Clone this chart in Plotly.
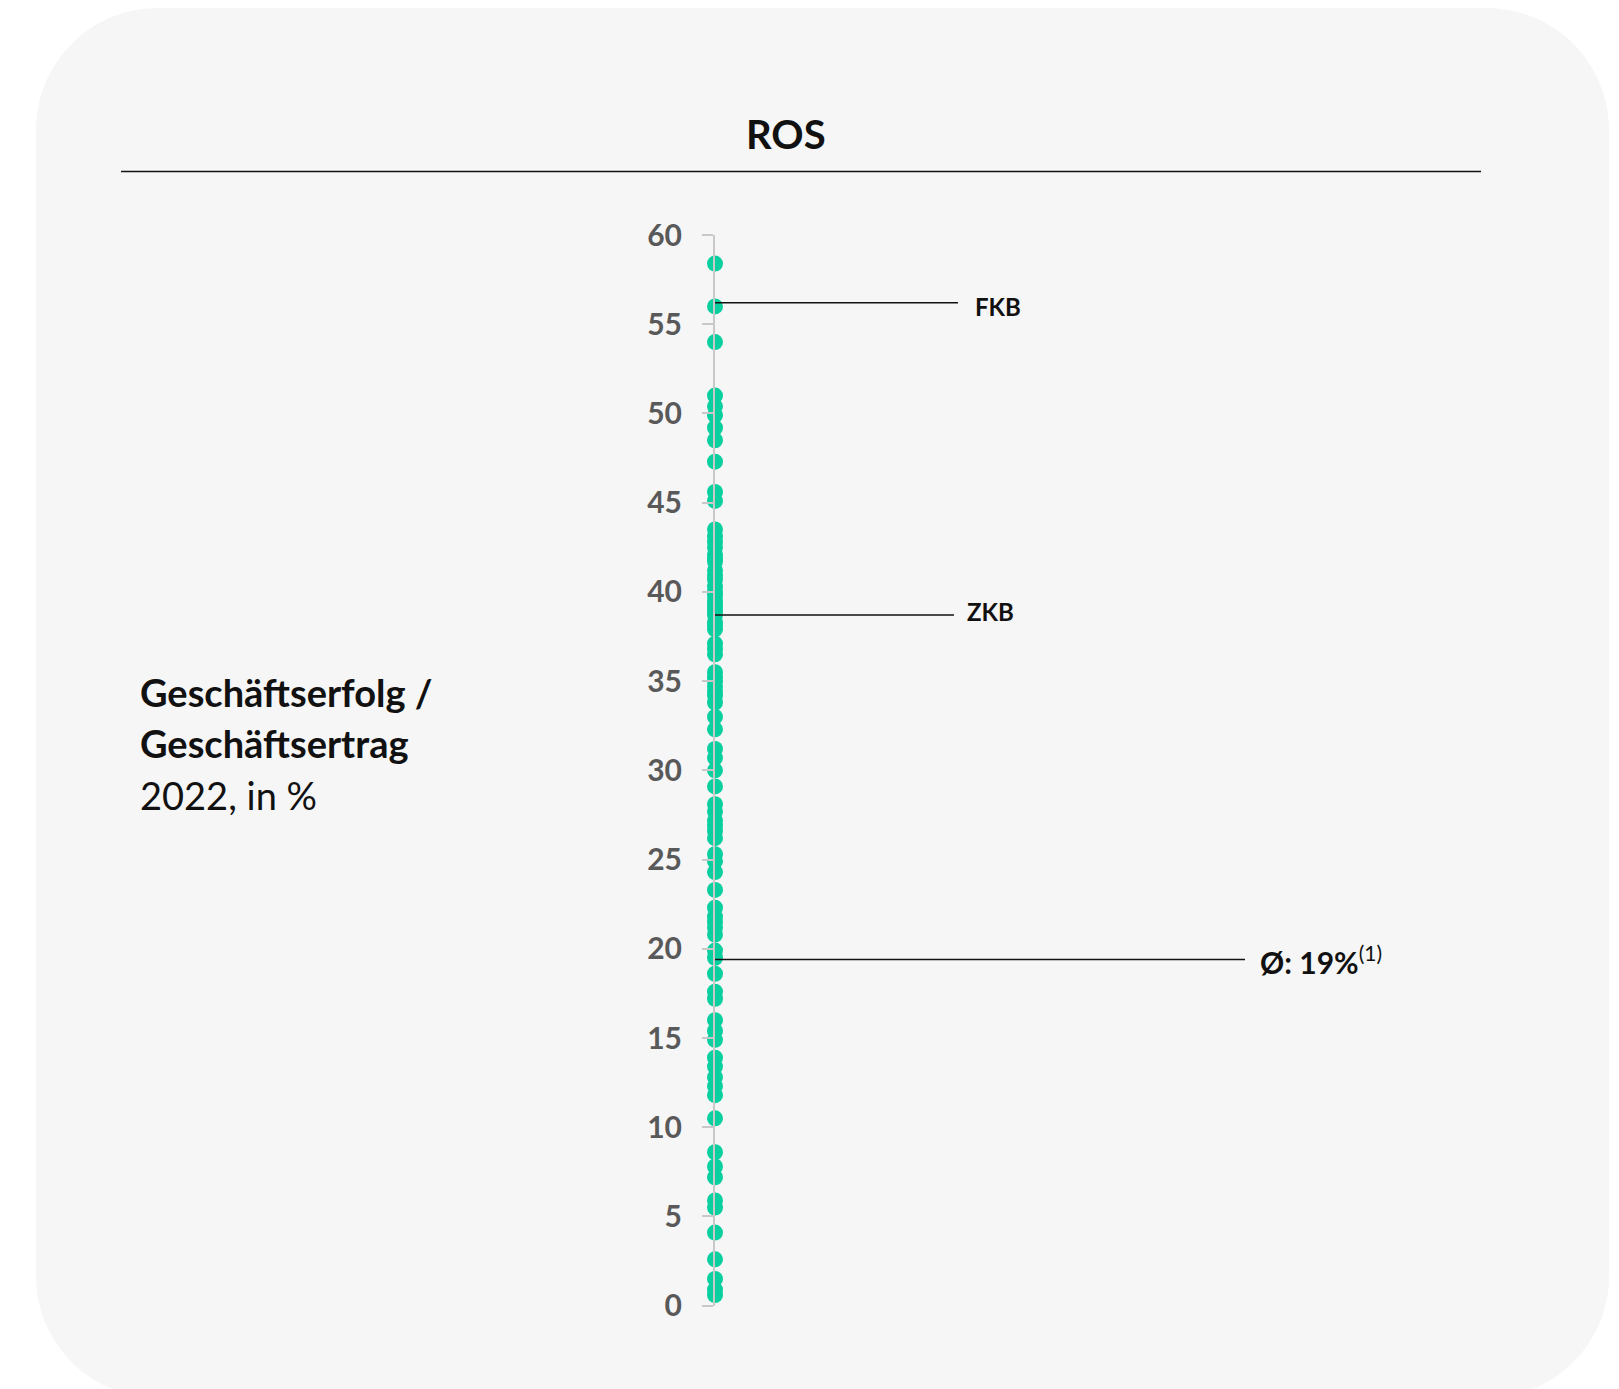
import plotly.graph_objects as go

W, H = 1619, 1389

# ---- data (ROS 2022, in %) ----
ros_values = [
    58.4, 56.0, 54.0,
    51.0, 50.4, 49.9, 49.2, 48.5, 47.3, 45.6, 45.1,
    43.5, 43.1, 42.8, 42.5, 42.1, 41.9, 41.7, 41.2, 40.9, 40.7, 40.3, 40.0,
    39.8, 39.5, 39.3, 39.1, 38.9, 38.7, 38.3, 38.1, 37.9,
    37.1, 36.8, 36.5, 35.5, 35.2, 35.0, 34.7, 34.4, 34.2, 33.8,
    33.0, 32.3, 31.2, 30.7, 30.0, 29.1,
    28.1, 27.7, 27.2, 26.9, 26.6, 26.2, 25.3, 24.9, 24.3, 23.3,
    22.3, 21.8, 21.5, 21.2, 20.8, 19.9, 19.5, 18.6, 17.6, 17.2,
    16.0, 15.4, 14.9, 13.9, 13.4, 12.8, 12.3, 11.8, 10.5,
    8.6, 7.8, 7.2, 5.9, 5.5, 4.1, 2.6, 1.5, 0.9, 0.6,
]
y_ticks = [0, 5, 10, 15, 20, 25, 30, 35, 40, 45, 50, 55, 60]
callouts = ["FKB", "ZKB"]
callout_values = [56.2, 38.7]
avg_value = 19.4
avg_label = "Ø: 19%"

title_text = "ROS"
side_lines = ["Geschäftserfolg /", "Geschäftsertrag"]
side_sub = "2022, in %"

GREEN = "#0ACF9F"
AXIS_GREY = "#c8c8c8"

# page offset compensation (browser body margin)
OFFX, OFFY = -8, -8


def px(x):
    return (x + OFFX) / W


def py(y):
    return 1 - (y + OFFY) / H


def rounded_rect(x0, y0, x1, y1, r):
    k = 0.5523 * r

    def P(x, y):
        return f"{px(x):.5f},{py(y):.5f}"
    path = f"M {P(x0 + r, y0)} L {P(x1 - r, y0)} "
    path += f"C {P(x1 - r + k, y0)} {P(x1, y0 + r - k)} {P(x1, y0 + r)} "
    path += f"L {P(x1, y1 - r)} "
    path += f"C {P(x1, y1 - r + k)} {P(x1 - r + k, y1)} {P(x1 - r, y1)} "
    path += f"L {P(x0 + r, y1)} "
    path += f"C {P(x0 + r - k, y1)} {P(x0, y1 - r + k)} {P(x0, y1 - r)} "
    path += f"L {P(x0, y0 + r)} "
    path += f"C {P(x0, y0 + r - k)} {P(x0 + r - k, y0)} {P(x0 + r, y0)} Z"
    return path


fig = go.Figure()
fig.add_trace(go.Scatter(
    x=[0] * len(ros_values), y=ros_values, mode="markers",
    marker=dict(size=16, color=GREEN, line=dict(width=0)),
    cliponaxis=False, hoverinfo="y", showlegend=False,
))

axis_x_px = 715
y0_px, y60_px = 1305.7, 235.0

shapes = [
    dict(type="path", xref="paper", yref="paper", layer="below",
         path=rounded_rect(36, 8, 1609, 1398, 122),
         fillcolor="#f6f6f6", line=dict(width=0)),
    dict(type="line", xref="paper", yref="paper",
         x0=px(121), x1=px(1481), y0=py(171.5), y1=py(171.5),
         line=dict(color="#111111", width=1.5)),
]
line_ends = [958, 954]
for v, xe in zip(callout_values, line_ends):
    shapes.append(dict(type="line", xref="paper", yref="y",
                       x0=px(axis_x_px), x1=px(xe), y0=v, y1=v,
                       line=dict(color="#111111", width=1.5)))
shapes.append(dict(type="line", xref="paper", yref="y",
                   x0=px(axis_x_px), x1=px(1245), y0=avg_value, y1=avg_value,
                   line=dict(color="#111111", width=1.5)))

annotations = [
    dict(text=f"<b>{title_text}</b>", xref="paper", yref="paper",
         x=px(761 * 1.0325), y=py(134), xanchor="center", yanchor="middle",
         showarrow=False, font=dict(family="Lato", size=40, color="#111111")),
]
label_x = [973, 965]
label_dy = [-0.2, 0.2]
for name, v, lx, dy in zip(callouts, callout_values, label_x, label_dy):
    annotations.append(dict(text=f"<b>{name}</b>", xref="paper", yref="y",
                            x=px(lx), y=v + dy, xanchor="left", yanchor="middle",
                            showarrow=False,
                            font=dict(family="Lato", size=24, color="#111111")))
annotations.append(dict(text=f"<b>{avg_label}</b><sup>(1)</sup>", xref="paper", yref="y",
                        x=px(1258), y=avg_value, xanchor="left", yanchor="middle",
                        showarrow=False,
                        font=dict(family="Lato", size=30, color="#111111")))
for i, t in enumerate(side_lines):
    annotations.append(dict(text=f"<b>{t}</b>", xref="paper", yref="paper",
                            x=px(138), y=py(692 + 51 * i), xanchor="left", yanchor="middle",
                            showarrow=False,
                            font=dict(family="Lato", size=38, color="#111111")))
annotations.append(dict(text=side_sub, xref="paper", yref="paper",
                        x=px(138), y=py(795), xanchor="left", yanchor="middle",
                        showarrow=False,
                        font=dict(family="Lato", size=38, color="#111111")))

fig.update_layout(
    width=W, height=H,
    margin=dict(l=0, r=0, t=0, b=0, pad=0, autoexpand=False),
    paper_bgcolor="white",
    plot_bgcolor="rgba(0,0,0,0)",
    shapes=shapes,
    annotations=annotations,
    xaxis=dict(domain=[px(axis_x_px), 0.95], range=[0, 1], visible=False,
               fixedrange=True),
    yaxis=dict(domain=[py(y0_px), py(y60_px)], range=[0, 60],
               tickvals=y_ticks, ticktext=[str(t) for t in y_ticks],
               ticks="outside", ticklen=11, tickwidth=2, tickcolor=AXIS_GREY,
               showline=True, linecolor=AXIS_GREY, linewidth=2,
               showgrid=False, zeroline=False, ticklabelstandoff=14,
               automargin=False,
               tickfont=dict(family="Lato", size=30, color="#595959", weight="bold")),
)

fig.write_html("out.html")
